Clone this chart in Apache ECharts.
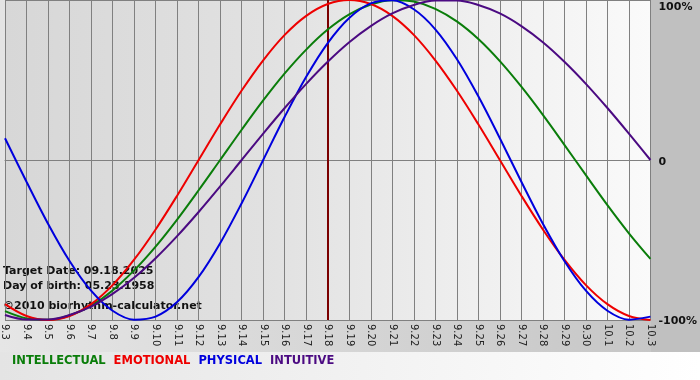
<!DOCTYPE html>
<html>
<head>
<meta charset="utf-8">
<style>html,body{margin:0;padding:0;background:#fff}#c{width:700px;height:380px}</style>
<script src="https://cdn.jsdelivr.net/npm/echarts@6/dist/echarts.min.js"></script>
</head>
<body>
<div id="c"></div>
<script>
var days = ['9.3','9.4','9.5','9.6','9.7','9.8','9.9','9.10','9.11','9.12','9.13','9.14','9.15','9.16','9.17','9.18','9.19','9.20','9.21','9.22','9.23','9.24','9.25','9.26','9.27','9.28','9.29','9.30','10.1','10.2','10.3'];
var intellectual = [-94.5,-99.0,-99.9,-97.2,-91.0,-81.5,-69.0,-54.1,-37.2,-18.9,0,18.9,37.2,54.1,69.0,81.5,91.0,97.2,99.9,99.0,94.5,86.6,75.6,61.8,45.8,28.2,9.5,-9.5,-28.2,-45.8,-61.8];
var emotional = [-90.1,-97.5,-100,-97.5,-90.1,-78.2,-62.3,-43.4,-22.3,0,22.3,43.4,62.3,78.2,90.1,97.5,100,97.5,90.1,78.2,62.3,43.4,22.3,0,-22.3,-43.4,-62.3,-78.2,-90.1,-97.5,-100];
var physical = [13.6,-13.6,-39.8,-63.1,-81.7,-94.2,-99.8,-97.9,-88.8,-73.1,-52.0,-27.0,0,27.0,52.0,73.1,88.8,97.9,99.8,94.2,81.7,63.1,39.8,13.6,-13.6,-39.8,-63.1,-81.7,-94.2,-99.8,-97.9];
var intuitive = [-96.9,-99.7,-99.7,-96.9,-91.6,-83.7,-73.6,-61.4,-47.6,-32.5,-16.5,0,16.5,32.5,47.6,61.4,73.6,83.7,91.6,96.9,99.7,99.7,96.9,91.6,83.7,73.6,61.4,47.6,32.5,16.5,0];
var targetDay = '9.18';
var infoLines = ['Target Date: 09.18.2025','Day of birth: 05.23.1958','©2010 biorhythm-calculator.net'];
var seriesNames = ['INTELLECTUAL','EMOTIONAL','PHYSICAL','INTUITIVE'];
var seriesColors = ['#0a7d0a','#ee0000','#0000dd','#4b0a82'];
var seriesData = [intellectual, emotional, physical, intuitive];

var chart = echarts.init(document.getElementById('c'), null, {renderer:'canvas'});
var FONT = '"DejaVu Sans", Verdana, sans-serif';

var series = seriesNames.map(function(n,i){
  return {
    name:n, type:'line', data:seriesData[i], smooth:0.35, symbol:'none',
    lineStyle:{color:seriesColors[i], width:2}, itemStyle:{color:seriesColors[i]},
    silent:true, z:3
  };
});
series[0].markLine = {
  silent:true, symbol:['none','none'], label:{show:false},
  lineStyle:{color:'#7a0000', width:2, type:'solid'},
  data:[{xAxis:targetDay}], z:2
};

var option = {
  animation:false,
  backgroundColor:'#ffffff',
  graphic:[
    {type:'rect', z:-10, shape:{x:0,y:0,width:700,height:380}, style:{fill:new echarts.graphic.LinearGradient(0,0,1,0,[{offset:0,color:'#e4e4e4'},{offset:1,color:'#ffffff'}])}},
    {type:'rect', z:-9, shape:{x:0,y:320,width:700,height:32}, style:{fill:new echarts.graphic.LinearGradient(0,0,1,0,[{offset:0,color:'#e6e6e6'},{offset:1,color:'#c4c4c4'}])}},
    {type:'rect', z:-8, shape:{x:651,y:0,width:49,height:352}, style:{fill:'#c0c0c0'}},
    {type:'group', left:3, top:266, z:100, children: infoLines.map(function(t,i){
      return {type:'text', x:0, y:[0,15,35][i], style:{text:t, font:'bold 11px '+FONT, fill:'#111'}};
    })}
  ],
  legend:{
    left:7, top:355, padding:0, icon:'none', itemWidth:0, itemHeight:10, itemGap:3,
    selectedMode:false,
    data: seriesNames.map(function(n,i){return {name:n, textStyle:{color:seriesColors[i]}};}),
    textStyle:{fontFamily:FONT, fontWeight:'bold', fontSize:11.5}
  },
  grid:{left:0, right:49, top:0, bottom:60, show:true, borderWidth:0,
    backgroundColor:new echarts.graphic.LinearGradient(0,0,1,0,[{offset:0,color:'#d7d7d7'},{offset:0.4,color:'#e1e1e1'},{offset:0.7,color:'#eeeeee'},{offset:1,color:'#fafafa'}])},
  xAxis:{
    type:'category', data:days, boundaryGap:false,
    axisLine:{show:true, lineStyle:{color:'#808080', width:1}},
    axisTick:{show:true, interval:0, length:3, lineStyle:{color:'#808080'}},
    splitLine:{show:true, interval:0, lineStyle:{color:'#808080', width:1}},
    axisLabel:{interval:0, rotate:-90, margin:4, fontSize:10, fontFamily:FONT, color:'#222'}
  },
  yAxis:{
    type:'value', position:'right', min:-100, max:100, interval:100,
    axisLine:{show:false}, axisTick:{show:false},
    splitLine:{show:true, lineStyle:{color:'#808080', width:1}},
    axisLabel:{
      margin:8, fontSize:11, fontWeight:'bold', fontFamily:FONT, color:'#111',
      formatter:function(v){ if(v===100) return '{t|100%}'; if(v===0) return '{z|0}'; return '{b|-100%}'; },
      rich:{t:{fontSize:11, fontWeight:'bold', fontFamily:FONT, color:'#111', padding:[15,0,0,0]},
            z:{fontSize:11, fontWeight:'bold', fontFamily:FONT, color:'#111', padding:[4,0,0,0]},
            b:{fontSize:11, fontWeight:'bold', fontFamily:FONT, color:'#111', padding:[3,0,0,0]}}
    }
  },
  series:series
};
chart.setOption(option);
</script>
</body>
</html>
